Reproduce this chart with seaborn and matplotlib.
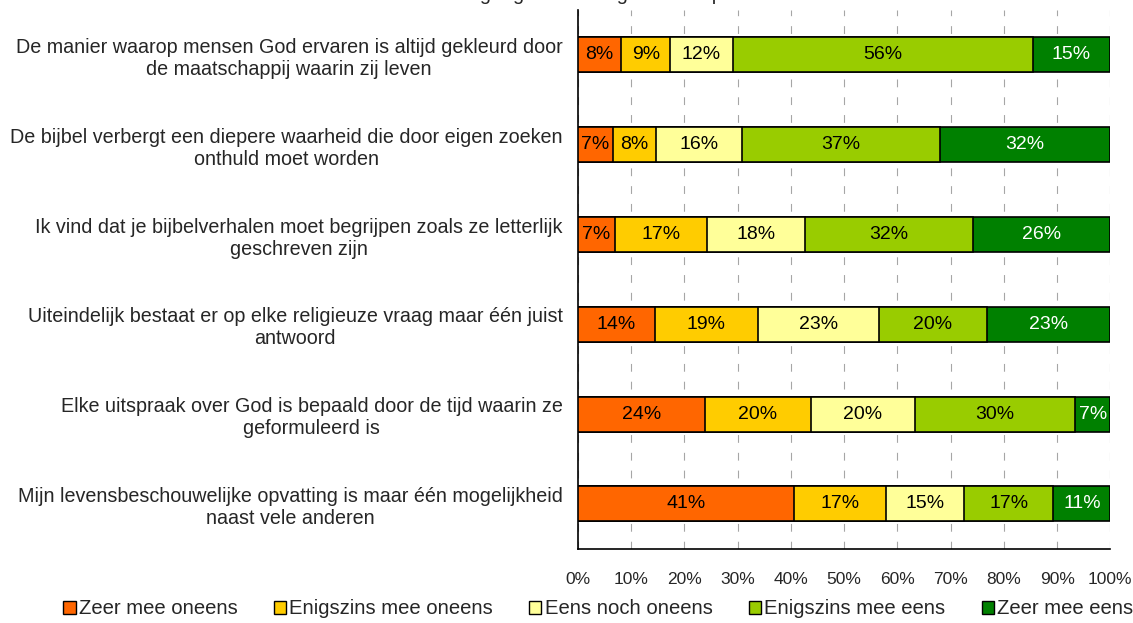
import matplotlib
matplotlib.use("Agg")
import matplotlib.pyplot as plt
from matplotlib.patches import Patch
from matplotlib.ticker import FixedLocator, PercentFormatter
import seaborn as sns
import pandas as pd
import numpy as np

statements = [
    "De manier waarop mensen God ervaren is altijd gekleurd door\nde maatschappij waarin zij leven",
    "De bijbel verbergt een diepere waarheid die door eigen zoeken\nonthuld moet worden",
    "Ik vind dat je bijbelverhalen moet begrijpen zoals ze letterlijk\ngeschreven zijn",
    "Uiteindelijk bestaat er op elke religieuze vraag maar één juist\nantwoord",
    "Elke uitspraak over God is bepaald door de tijd waarin ze\ngeformuleerd is",
    "Mijn levensbeschouwelijke opvatting is maar één mogelijkheid\nnaast vele anderen",
]
answers = ["Zeer mee oneens", "Enigszins mee oneens", "Eens noch oneens",
           "Enigszins mee eens", "Zeer mee eens"]

zeer_oneens = [8.2, 6.6, 6.9, 14.4, 23.8, 40.6]
enigszins_oneens = [9.1, 8.1, 17.3, 19.4, 19.9, 17.2]
neutraal = [11.8, 16.2, 18.4, 22.7, 19.6, 14.7]
enigszins_eens = [56.3, 37.1, 31.7, 20.3, 30.1, 16.8]
zeer_eens = [14.6, 32.0, 25.7, 23.2, 6.6, 10.7]

colors = ["#FF6600", "#FFCC00", "#FFFF99", "#99CC00", "#008000"]
text_colors = ["black", "black", "black", "black", "white"]

df = pd.DataFrame({
    "stelling": statements,
    answers[0]: zeer_oneens,
    answers[1]: enigszins_oneens,
    answers[2]: neutraal,
    answers[3]: enigszins_eens,
    answers[4]: zeer_eens,
})
cum = df[answers].cumsum(axis=1)

sns.set_style("white")
plt.rcParams["font.family"] = ["Liberation Sans", "DejaVu Sans"]
FS = 14.2

fig = plt.figure(figsize=(11.33, 6.23), dpi=100)
ax = fig.add_axes([0.510, 0.119, 0.470, 0.865])

# stacked bars: draw cumulative totals from the right-most layer down
for ans, col in reversed(list(zip(answers, colors))):
    sns.barplot(x=cum[ans], y=df["stelling"], orient="h", color=col,
                edgecolor="black", linewidth=1.2, width=0.39, ax=ax,
                saturation=1, zorder=3)

for i in range(len(df)):
    left = 0
    for ans, tc in zip(answers, text_colors):
        v = df.loc[i, ans]
        ax.text(left + v / 2, i, f"{v:.0f}%", ha="center", va="center",
                fontsize=14, color=tc, zorder=5)
        left += v

ax.set_xlim(0, 100)
ax.set_ylim(len(df) - 0.5, -0.5)
ax.xaxis.set_major_locator(FixedLocator(np.arange(0, 101, 10)))
ax.xaxis.set_major_formatter(PercentFormatter(decimals=0))
ax.grid(axis="x", color="#A6A6A6", linestyle=(0, (7, 9)), linewidth=0.8, zorder=0)
ax.set_axisbelow(True)

ax.set_xlabel("")
ax.set_ylabel("")
ax.set_yticks(range(len(df)))
ax.set_yticklabels(statements, multialignment="center", fontsize=FS)
ax.yaxis.set_minor_locator(FixedLocator(np.arange(-0.5, len(df), 1)))
ax.tick_params(axis="y", which="major", length=0, pad=11)
ax.tick_params(axis="y", which="minor", length=5, width=1, color="black", direction="out")
ax.tick_params(axis="x", which="major", length=5, width=1, color="black",
               direction="out", labelsize=12.5, pad=12)

for s in ["top", "right"]:
    ax.spines[s].set_visible(False)
for s in ["left", "bottom"]:
    ax.spines[s].set_color("black")
    ax.spines[s].set_linewidth(1.2)

handles = [Patch(facecolor=c, edgecolor="black", linewidth=1) for c in colors]
fig.legend(handles, answers, loc="lower center", bbox_to_anchor=(0.528, -0.022),
           ncol=5, frameon=False, fontsize=14.6, handlelength=0.6,
           handleheight=0.6, handletextpad=0.15, columnspacing=1.8)

fig.text(0.525, 0.993, "Houding tegenover religieuze uitspraken", ha="center",
         va="bottom", fontsize=FS)

fig.savefig("out.png", dpi=100)
